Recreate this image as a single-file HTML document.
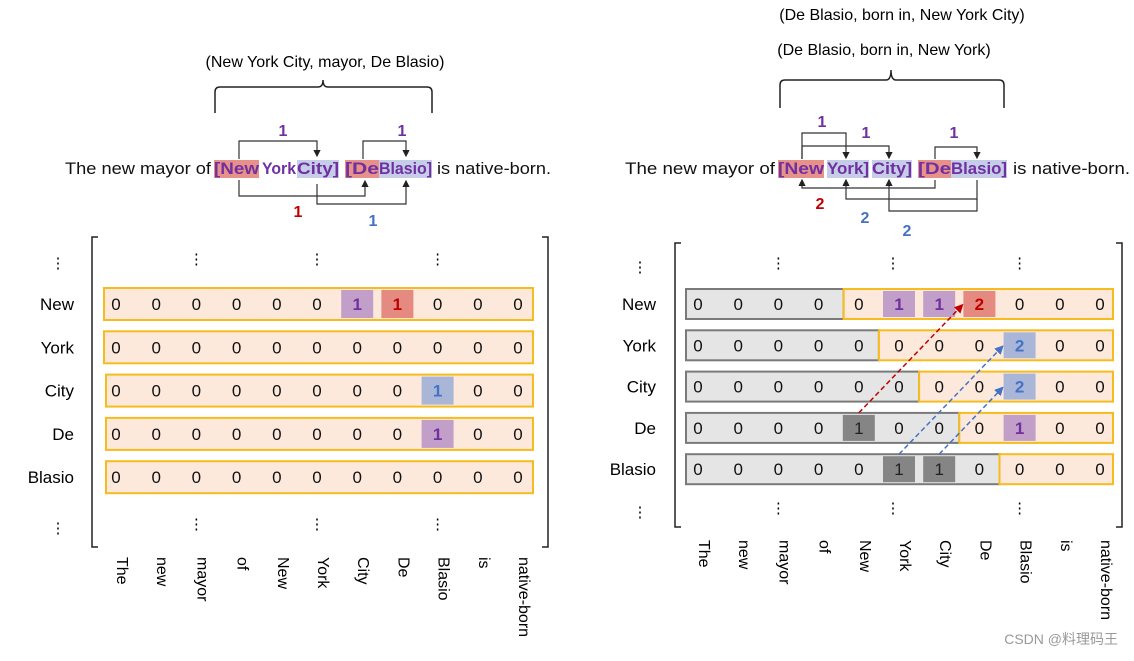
<!DOCTYPE html>
<html><head><meta charset="utf-8"><style>
body{margin:0;background:#fff;width:1134px;height:656px;overflow:hidden}
svg text{font-family:"Liberation Sans","Noto Sans CJK SC",sans-serif}
</style></head><body>
<svg id="s" width="1134" height="656" viewBox="0 0 1134 656">
<defs>
<marker id="ah" markerWidth="6" markerHeight="6" refX="5" refY="3" orient="auto"><path d="M0,0 L6,3 L0,6z" fill="#222"/></marker>
<marker id="ar" markerWidth="6" markerHeight="6" refX="5" refY="3" orient="auto"><path d="M0,0 L6,3 L0,6z" fill="#c00000"/></marker>
<marker id="ab" markerWidth="6" markerHeight="6" refX="5" refY="3" orient="auto"><path d="M0,0 L6,3 L0,6z" fill="#4472c4"/></marker>
</defs>
<g id="static" font-size="16">
<text x="325" y="67" text-anchor="middle">(New York City, mayor, De Blasio)</text>
<text x="902" y="20" text-anchor="middle">(De Blasio, born in, New York City)</text>
<text x="884" y="55" text-anchor="middle">(De Blasio, born in, New York)</text>
<path d="M215,113 V92 Q215,87 220,87 H318 Q323,87 323,80 Q323,87 328,87 H427 Q432,87 432,92 V113" fill="none" stroke="#222" stroke-width="1.5"/>
<path d="M780,108 V85 Q780,80 785,80 H886 Q891,80 891,70 Q891,80 896,80 H999 Q1004,80 1004,85 V108" fill="none" stroke="#222" stroke-width="1.5"/>
</g>
<g id="sentL"></g>
<g id="sentR"></g>
<g id="matL"></g>
<g id="matR"></g>
<text x="1118" y="644" text-anchor="end" font-size="14" fill="#999">CSDN @料理码王</text>
</svg>
<script>
const NS='http://www.w3.org/2000/svg';
const words=['The','new','mayor','of','New','York','City','De','Blasio','is','native-born'];
const rowsLabels=['New','York','City','De','Blasio'];
const leftVals=[[0,0,0,0,0,0,1,1,0,0,0],[0,0,0,0,0,0,0,0,0,0,0],[0,0,0,0,0,0,0,0,1,0,0],[0,0,0,0,0,0,0,0,1,0,0],[0,0,0,0,0,0,0,0,0,0,0]];
const leftHi=[[0,0,0,0,0,0,'p','r',0,0,0],[0,0,0,0,0,0,0,0,0,0,0],[0,0,0,0,0,0,0,0,'b',0,0],[0,0,0,0,0,0,0,0,'p',0,0],[0,0,0,0,0,0,0,0,0,0,0]];
const rightVals=[[0,0,0,0,0,1,1,2,0,0,0],[0,0,0,0,0,0,0,0,2,0,0],[0,0,0,0,0,0,0,0,2,0,0],[0,0,0,0,1,0,0,0,1,0,0],[0,0,0,0,0,1,1,0,0,0,0]];
const rightHi=[[0,0,0,0,0,'p','p','r',0,0,0],[0,0,0,0,0,0,0,0,'b',0,0],[0,0,0,0,0,0,0,0,'b',0,0],[0,0,0,0,'g',0,0,0,'p',0,0],[0,0,0,0,0,'g','g',0,0,0,0]];
const rightSplit=[4,5,6,7,8];
const HI={p:['#c19fc8','#7030a0'],r:['#e48a80','#c00000'],b:['#aab6d8','#4472c4'],g:['#858585','#222']};
function el(p,t,a,txt){const e=document.createElementNS(NS,t);for(const k in a)e.setAttribute(k,a[k]);if(txt!==undefined)e.textContent=txt;p.appendChild(e);return e;}
function matrix(g,cfg){
  const cx=i=>cfg.x0+i*cfg.dx, cy=j=>cfg.y0+j*cfg.dy;
  const b1=el(g,'path',{d:`M${cfg.bl+6},${cfg.bt} H${cfg.bl} V${cfg.bb} H${cfg.bl+6}`,fill:'none',stroke:'#222','stroke-width':1.5});
  
  
  const b2=el(g,'path',{d:`M${cfg.br-6},${cfg.bt} H${cfg.br} V${cfg.bb} H${cfg.br-6}`,fill:'none',stroke:'#222','stroke-width':1.5});
  
  
  cfg.vals.forEach((row,j)=>{
    const y=cy(j), h=cfg.h;
    const lab=el(g,'text',{x:cfg.labX,y:y+6,'text-anchor':'end','font-size':17},rowsLabels[j]);
    
    
    const bx0=cfg.boxL(j), bx1=cfg.boxR;
    let split=cfg.split?cx(cfg.split[j])-cfg.dx/2+(j==0?5:0):bx0;
    if(cfg.split){
      const gr=el(g,'rect',{x:bx0,y:y-h/2,width:split-bx0,height:h,fill:'#e5e5e5',stroke:'#7a7a7a','stroke-width':2});
      
      
    }
    const or=el(g,'rect',{x:split,y:y-h/2,width:bx1-split,height:h,fill:'#fde9dc',stroke:'#f6bc1d','stroke-width':2});
    
    
    row.forEach((v,i)=>{
      const hk=cfg.hi[j][i];
      if(hk){const c=el(g,'rect',{x:cx(i)-16,y:y-h/2+2,width:32,height:h-4,fill:HI[hk][0]});
        
        }
      const t=el(g,'text',{x:cx(i),y:y+6,'text-anchor':'middle','font-size':17,'font-weight':hk&&hk!='g'?'bold':'normal',fill:hk?HI[hk][1]:'#111'},String(v));
      
      
    });
  });
  words.forEach((w,i)=>{
    const t=el(g,'text',{x:0,y:0,'font-size':16,transform:`translate(${cx(i)+1},${cfg.wordY}) rotate(90)`},w);
    
    
  });
  [cfg.vTop,cfg.vBot].forEach(yy=>{
    [2,cfg.midCol,8+cfg.lastShift].forEach(c=>{
      const t=el(g,'text',{x:cx(c)+(c==cfg.midCol?cfg.midShift:0),y:yy,'text-anchor':'middle','font-size':15},'⋮');
      
      
    });
    const t=el(g,'text',{x:cfg.dotsX,y:yy+4,'text-anchor':'middle','font-size':15},'⋮');
    
    
  });
  return {cx,cy};
}
const L=matrix(document.getElementById('matL'),{x0:116,dx:40.2,y0:304,dy:43.3,h:32,bl:92,br:548,bt:237,bb:547,labX:74,
  boxL:j=>j<2?104:106,boxR:533,vals:leftVals,hi:leftHi,wordY:557,vTop:264,vBot:529,midCol:5,midShift:0,lastShift:0,dotsX:58});
const R=matrix(document.getElementById('matR'),{x0:698,dx:40.2,y0:304,dy:41.3,h:30,bl:675,br:1122,bt:243,bb:527,labX:656,
  boxL:j=>686,boxR:1113,vals:rightVals,hi:rightHi,split:rightSplit,wordY:540,vTop:268,vBot:513,midCol:5,midShift:-6,lastShift:0,dotsX:640});
const mr=document.getElementById('matR');
[[4,3,7,0,'#c00000','ar'],[5,4,8,1,'#4472c4','ab'],[6,4,8,2,'#4472c4','ab']].forEach(a=>{
  const l=el(mr,'line',{x1:R.cx(a[0]),y1:R.cy(a[1])-15,x2:R.cx(a[2])-17,y2:R.cy(a[3])+1,stroke:a[4],'stroke-width':1.5,'stroke-dasharray':'5,3','marker-end':`url(#${a[5]})`});
  
  
});
function sentence(g,x0,segs,arrows,labels){
  segs.forEach(s=>{
    if(s.bg){const r=el(g,'rect',{x:s.x,y:160,width:s.w,height:18,fill:s.bg});
      
      }
    const t=el(g,'text',{x:s.x,y:174,'font-size':17,textLength:s.w,lengthAdjust:'spacingAndGlyphs','font-weight':s.b?'bold':'normal',fill:s.c||'#111'},s.t);
    
    
  });
  arrows.forEach(d=>{const p=el(g,'path',{d:d,fill:'none',stroke:'#333','stroke-width':1.2,'marker-end':'url(#ah)'});
    
    });
  labels.forEach(l=>{const t=el(g,'text',{x:l[0],y:l[1],'text-anchor':'middle','font-size':16,'font-weight':'bold',fill:l[2]},l[3]);
    
    });
}
const P='#7030a0',RD='#c00000',BL='#4472c4';
sentence(document.getElementById('sentL'),65,[
 {t:'The new mayor of ',x:65,w:146},
 {t:'[New',x:214,w:45,b:1,c:P,bg:'#e8918a'},
 {t:'York',x:262,w:34,b:1,c:P},
 {t:'City]',x:297,w:42,b:1,c:P,bg:'#c5cde8'},
 {t:'[De',x:345,w:34,b:1,c:P,bg:'#e8918a'},
 {t:'Blasio]',x:379,w:53,b:1,c:P,bg:'#c5cde8'},
 {t:'is native-born.',x:437,w:114}
],['M239,159 V141 H317 V156','M363,159 V141 H406 V156','M239,180 V196 H365 V181','M317,184 V204 H406 V181'],
[[283,136,P,'1'],[402,136,P,'1'],[298,217,RD,'1'],[373,226,BL,'1']]);
sentence(document.getElementById('sentR'),625,[
 {t:'The new mayor of ',x:625,w:150},
 {t:'[New',x:778,w:46,b:1,c:P,bg:'#e8918a'},
 {t:'York]',x:827,w:42,b:1,c:P,bg:'#c5cde8'},
 {t:'City]',x:872,w:40,b:1,c:P,bg:'#c5cde8'},
 {t:'[De',x:918,w:33,b:1,c:P,bg:'#e8918a'},
 {t:'Blasio]',x:951,w:56,b:1,c:P,bg:'#c5cde8'},
 {t:'is native-born.',x:1013,w:117}
],['M802,159 V133 H846 V158','M802,159 V146 H889 V158','M935,159 V147 H977 V158','M935,180 V188 H802 V180','M977,180 V199 H846 V180','M977,199 V211 H889 V180'],
[[822,127,P,'1'],[866,138,P,'1'],[954,138,P,'1'],[820,209,RD,'2'],[865,223,BL,'2'],[907,236,BL,'2']]);
</script>
</body></html>
